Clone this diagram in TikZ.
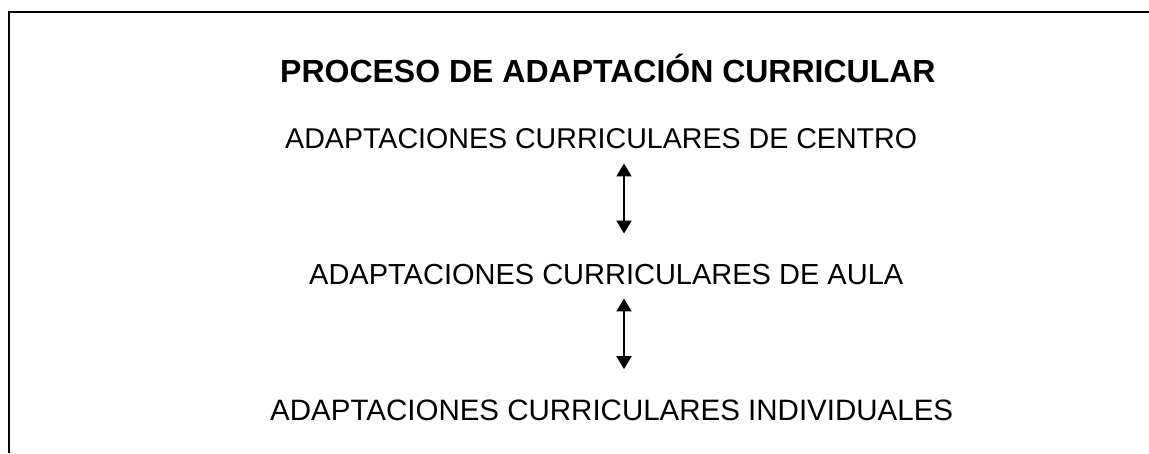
\documentclass[tikz,border=0pt]{standalone}
\usepackage{fontspec}
\setmainfont{Liberation Sans}
\usetikzlibrary{arrows.meta}
\begin{document}
\begin{tikzpicture}[x=1pt,y=1pt,
  lbl/.style={inner sep=0pt, anchor=base west},
  arr/.style={line width=2pt, {Triangle[width=15pt,length=13pt]}-{Triangle[width=15pt,length=13pt]}},
  frame/.style={line width=2.2pt}]
\useasboundingbox (0,0) rectangle (1149,453);
\draw[frame] (9,0) -- (9,441) -- (1149,441);
\node[lbl, font=\fontsize{32}{38}\selectfont\bfseries] (title) at (280,370) {PROCESO DE ADAPTACIÓN CURRICULAR};
\node[lbl, font=\fontsize{28.6}{34}\selectfont] (centro) at (285,304) {ADAPTACIONES CURRICULARES DE CENTRO};
\node[lbl, font=\fontsize{29}{34}\selectfont] (aula) at (309,168) {ADAPTACIONES CURRICULARES DE AULA};
\node[lbl, font=\fontsize{29.5}{35}\selectfont] (indiv) at (270,33) {ADAPTACIONES CURRICULARES INDIVIDUALES};
\coordinate (ax) at (624,0);
\draw[arr, shorten <=14pt, shorten >=31pt] (centro.south -| ax) -- (aula.north -| ax);
\draw[arr, shorten <=13pt, shorten >=30pt] (aula.south -| ax) -- (indiv.north -| ax);
\end{tikzpicture}
\end{document}
